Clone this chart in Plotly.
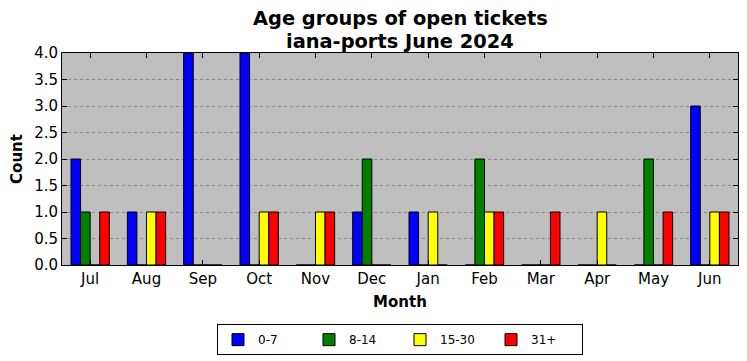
import plotly.graph_objects as go

months = ["Jul", "Aug", "Sep", "Oct", "Nov", "Dec", "Jan", "Feb", "Mar", "Apr", "May", "Jun"]
series_names = ["0-7", "8-14", "15-30", "31+"]
age_0_7 = [2, 1, 4, 4, 0, 1, 1, 0, 0, 0, 0, 3]
age_8_14 = [1, 0, 0, 0, 0, 2, 0, 2, 0, 0, 2, 0]
age_15_30 = [0, 1, 0, 1, 1, 0, 1, 1, 0, 1, 0, 1]
age_31 = [1, 1, 0, 1, 1, 0, 0, 1, 1, 0, 1, 1]
colors = ["#0000ff", "#008000", "#ffff00", "#ff0000"]
ytick_vals = [0, 0.5, 1, 1.5, 2, 2.5, 3, 3.5, 4]
title_lines = ["Age groups of open tickets", "iana-ports June 2024"]

font = "DejaVu Sans"
fig = go.Figure()
xs = list(range(len(months)))
for name, vals, c in zip(series_names, [age_0_7, age_8_14, age_15_30, age_31], colors):
    fig.add_trace(go.Bar(x=xs, y=vals, name=name, marker=dict(color=c, line=dict(color="black", width=1))))

for line, ypos in zip(title_lines, [1.1604, 1.0566]):
    fig.add_annotation(text=f"<b>{line}</b>", xref="paper", yref="paper", x=0.5, y=ypos,
                       xanchor="center", yanchor="middle", showarrow=False,
                       font=dict(family=font, size=19.4, color="black"))

fig.update_layout(
    width=739, height=353,
    margin=dict(l=54, r=9, t=45, b=96, autoexpand=False),
    paper_bgcolor="white", plot_bgcolor="#bfbfbf",
    barmode="group", bargap=0.32, bargroupgap=0,
    font=dict(family=font, size=13, color="black"),
    legend=dict(orientation="h", x=0.5, xanchor="center", y=-0.279, yanchor="top",
                bordercolor="black", borderwidth=1, font=dict(size=12), entrywidth=46,
                traceorder="normal"),
    xaxis=dict(tickmode="array", tickvals=xs, ticktext=months, range=[-0.5, 11.5],
               ticks="inside", ticklen=5, tickcolor="black", mirror="ticks", automargin=False,
               showline=True, linecolor="black", linewidth=1, showgrid=False, zeroline=False,
               tickfont=dict(size=15),
               title=dict(text="<b>Month</b>", font=dict(size=15), standoff=9)),
    yaxis=dict(tickmode="array", tickvals=ytick_vals, ticktext=[f"{v:.1f}" for v in ytick_vals],
               range=[0, 4], ticks="inside", ticklen=5, tickcolor="black", mirror="ticks", automargin=False,
               showline=True, linecolor="black", linewidth=1, showgrid=True,
               gridcolor="#888888", griddash="dot", gridwidth=1, zeroline=False,
               tickfont=dict(size=15),
               title=dict(text="<b>Count</b>", font=dict(size=15), standoff=8)),
)
fig.write_html("out.html")
